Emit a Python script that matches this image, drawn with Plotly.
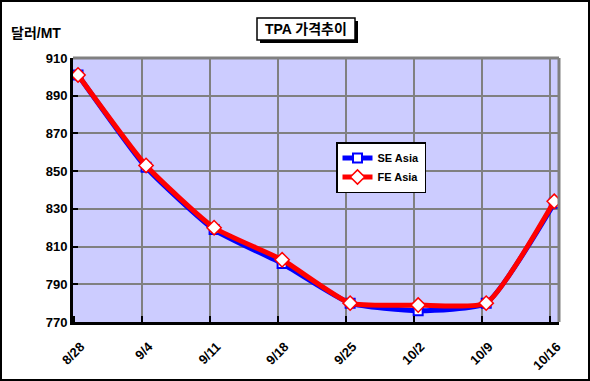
import plotly.graph_objects as go

dates = ["8/28", "9/4", "9/11", "9/18", "9/25", "10/2", "10/9", "10/16"]
se_asia = [901, 852, 819, 801, 780, 776, 780, 833]
fe_asia = [901, 853, 820, 803, 780, 779, 780, 834]
y_ticks = [770, 790, 810, 830, 850, 870, 890, 910]

idx = list(range(len(dates)))
grid_pos = [i - 0.06 for i in idx]
label_pos = [i + 0.04 for i in idx]

FONT = "Arial, Liberation Sans, Noto Sans CJK KR, sans-serif"

fig = go.Figure()
fig.add_trace(go.Scatter(
    x=idx, y=se_asia, name="SE Asia", mode="lines+markers",
    line=dict(color="#0000FF", width=5, shape="spline", smoothing=0.5),
    marker=dict(symbol="square", size=9, color="white", line=dict(color="#0000FF", width=2)),
))
fig.add_trace(go.Scatter(
    x=idx, y=fe_asia, name="FE Asia", mode="lines+markers",
    line=dict(color="#FF0000", width=5, shape="spline", smoothing=0.5),
    marker=dict(symbol="diamond", size=11, color="white", line=dict(color="#FF0000", width=1.5)),
))

W, H = 590, 381
L, R, T, B = 73, 31, 58, 59
pw = W - L - R
ph = H - T - B

def px_x(x):
    return (x - L) / pw

def px_y(y):
    return (H - B - y) / ph

fig.update_layout(
    width=W, height=H,
    margin=dict(l=L, r=R, t=T, b=B, autoexpand=False),
    paper_bgcolor="white",
    plot_bgcolor="#CCCCFF",
    font=dict(family=FONT, size=12, color="black", weight="bold"),
    showlegend=True,
    legend=dict(
        x=px_x(336), y=px_y(142), xanchor="left", yanchor="top",
        bgcolor="white", bordercolor="black", borderwidth=1.5,
        font=dict(family=FONT, size=11, color="black", weight="bold"),
        itemwidth=30, tracegroupgap=2,
    ),
)
fig.update_xaxes(
    range=[-0.074, 7.07],
    tickmode="array", tickvals=label_pos, ticktext=dates,
    tickangle=-45, automargin=False,
    showgrid=False,
    ticks="", ticklabelstandoff=9,
    minor=dict(tickvals=grid_pos, showgrid=True, gridcolor="#808080", gridwidth=1.5,
               ticks="inside", ticklen=6, tickcolor="black", tickwidth=2),
    showline=True, linecolor="black", linewidth=3,
    zeroline=False,
    tickfont=dict(family=FONT, size=13, color="black", weight="bold"),
)
fig.update_yaxes(
    range=[770, 910], automargin=False,
    tickmode="array", tickvals=y_ticks,
    showgrid=True, gridcolor="#808080", gridwidth=1.5,
    ticks="inside", ticklen=5, tickcolor="black", tickwidth=2,
    showline=True, linecolor="black", linewidth=3,
    zeroline=False,
    tickfont=dict(family=FONT, size=13, color="black", weight="bold"),
)

# gray top/right plot border
fig.add_shape(type="line", xref="paper", yref="paper", x0=0, x1=1, y0=1, y1=1,
              line=dict(color="#808080", width=3))
fig.add_shape(type="line", xref="paper", yref="paper", x0=1, x1=1, y0=0, y1=1,
              line=dict(color="#808080", width=3))

# outer chart border
fig.add_shape(type="rect", xref="paper", yref="paper",
              x0=px_x(1), x1=px_x(589), y0=px_y(380), y1=px_y(1),
              line=dict(color="black", width=2), layer="above")

# title box with shadow
fig.add_shape(type="rect", xref="paper", yref="paper",
              x0=px_x(260), x1=px_x(358), y0=px_y(43), y1=px_y(21),
              fillcolor="black", line=dict(color="black", width=0), layer="above")
fig.add_shape(type="rect", xref="paper", yref="paper",
              x0=px_x(257), x1=px_x(355), y0=px_y(40), y1=px_y(18),
              fillcolor="white", line=dict(color="black", width=1.5), layer="above")

fig.add_annotation(
    text="TPA 가격추이", xref="paper", yref="paper",
    x=px_x(306), y=px_y(29), xanchor="center", yanchor="middle",
    showarrow=False,
    font=dict(family=FONT, size=14, color="black", weight="bold"),
)
fig.add_annotation(
    text="달러/MT", xref="paper", yref="paper",
    x=px_x(9), y=px_y(33), xanchor="left", yanchor="middle",
    showarrow=False,
    font=dict(family=FONT, size=14, color="black", weight="bold"),
)

fig.write_html("out.html", config={"displayModeBar": False},
               post_script="document.body.style.margin='0';")
